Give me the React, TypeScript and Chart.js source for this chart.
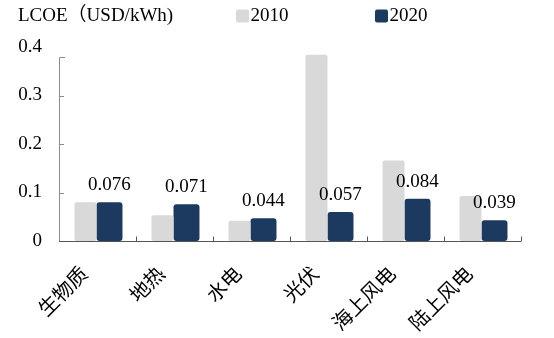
import React, { useEffect, useRef } from "react";
import { Chart, registerables } from "chart.js";

Chart.register(...registerables);

const categories = ["生物质", "地热", "水电", "光伏", "海上风电", "陆上风电"];
const values2010 = [0.080, 0.053, 0.042, 0.384, 0.166, 0.093];
const values2020 = [0.080, 0.076, 0.047, 0.060, 0.087, 0.043];
const labels2020 = ["0.076", "0.071", "0.044", "0.057", "0.084", "0.039"];
const yTicks = [0, 0.1, 0.2, 0.3, 0.4];
const headerTitle = "LCOE（USD/kWh)";
const seriesNames = ["2010", "2020"];

const GRAY = "#d9d9d9";
const NAVY = "#1c3a5f";
const FONT = "'Liberation Serif', 'Noto Sans CJK SC', serif";

export default function App() {
  const ref = useRef<HTMLCanvasElement | null>(null);

  useEffect(() => {
    const canvas = ref.current;
    if (!canvas) return;

    const decor = {
      id: "decor",
      afterDatasetsDraw(chart: any) {
        const ctx = chart.ctx;
        const { left, right, bottom } = chart.chartArea;
        const yScale = chart.scales.y;
        ctx.save();
        // y axis line (custom, shorter top)
        const yTop = Math.round(yScale.getPixelForValue(0.38)) + 0.5;
        ctx.strokeStyle = "#8c8c8c";
        ctx.lineWidth = 1;
        ctx.beginPath();
        ctx.moveTo(left + 0.5, bottom);
        ctx.lineTo(left + 0.5, yTop);
        ctx.lineTo(left + 6, yTop);
        for (const v of yTicks.slice(1, 4)) {
          const y = Math.round(yScale.getPixelForValue(v)) + 0.5;
          ctx.moveTo(left, y);
          ctx.lineTo(left + 5, y);
        }
        ctx.stroke();
        // x axis line + inward ticks
        ctx.strokeStyle = "#555555";
        ctx.beginPath();
        const yb = Math.round(bottom) + 0.5;
        ctx.moveTo(left, yb);
        ctx.lineTo(right, yb);
        const n = categories.length;
        for (let i = 1; i <= n; i++) {
          const x = Math.round(left + (i * (right - left)) / n) + 0.5;
          ctx.moveTo(x, yb);
          ctx.lineTo(x, yb - 5);
        }
        ctx.stroke();
        // data labels on 2020 series
        const meta = chart.getDatasetMeta(1);
        ctx.fillStyle = "#000";
        ctx.font = `19px ${FONT}`;
        ctx.textAlign = "center";
        ctx.textBaseline = "middle";
        meta.data.forEach((el: any, i: number) => {
          ctx.fillText(labels2020[i], el.x, el.y - 17);
        });
        // header: title + legend
        ctx.textAlign = "left";
        ctx.fillText(headerTitle, 18, 16);
        const legendX = [236, 375];
        const colors = [GRAY, NAVY];
        legendX.forEach((lx, i) => {
          ctx.fillStyle = colors[i];
          ctx.beginPath();
          (ctx as any).roundRect(lx, 9.5, 13, 13, 2);
          ctx.fill();
          ctx.fillStyle = "#000";
          ctx.fillText(seriesNames[i], lx + 14.5, 16);
        });
        ctx.restore();
      },
    };

    const chart = new Chart(canvas, {
      type: "bar",
      data: {
        labels: categories,
        datasets: [
          {
            label: seriesNames[0],
            data: values2010,
            backgroundColor: GRAY,
            barPercentage: 0.917,
            categoryPercentage: 0.623,
            borderRadius: 2,
            borderSkipped: false,
          },
          {
            label: seriesNames[1],
            data: values2020,
            backgroundColor: NAVY,
            barPercentage: 1.083,
            categoryPercentage: 0.623,
            borderRadius: 3,
            borderSkipped: false,
          },
        ],
      },
      options: {
        animation: false,
        responsive: true,
        maintainAspectRatio: false,
        layout: { padding: { left: 0, right: 33, top: 47, bottom: 0 } },
        plugins: {
          legend: { display: false },
          tooltip: { enabled: false },
        },
        scales: {
          x: {
            grid: { display: false, drawTicks: false },
            border: { display: false },
            ticks: {
              color: "#000",
              font: { family: FONT, size: 20 },
              minRotation: 45,
              maxRotation: 45,
              padding: 22,
              labelOffset: -12,
            },
            afterFit: (s: any) => {
              s.height = 97;
            },
          },
          y: {
            min: 0,
            max: 0.4,
            grid: { display: false, drawTicks: false },
            border: { display: false },
            ticks: {
              stepSize: 0.1,
              color: "#000",
              font: { family: FONT, size: 19 },
              padding: 17,
              callback: (v: any) => (Number(v) === 0 ? "0" : Number(v).toFixed(1)),
            },
            afterFit: (s: any) => {
              s.width = 59;
            },
          },
        },
      },
      plugins: [decor],
    });

    return () => chart.destroy();
  }, []);

  return (
    <div style={{ position: "fixed", left: 0, top: 0, width: 554, height: 338, background: "#fff" }}>
      <canvas ref={ref} />
    </div>
  );
}
